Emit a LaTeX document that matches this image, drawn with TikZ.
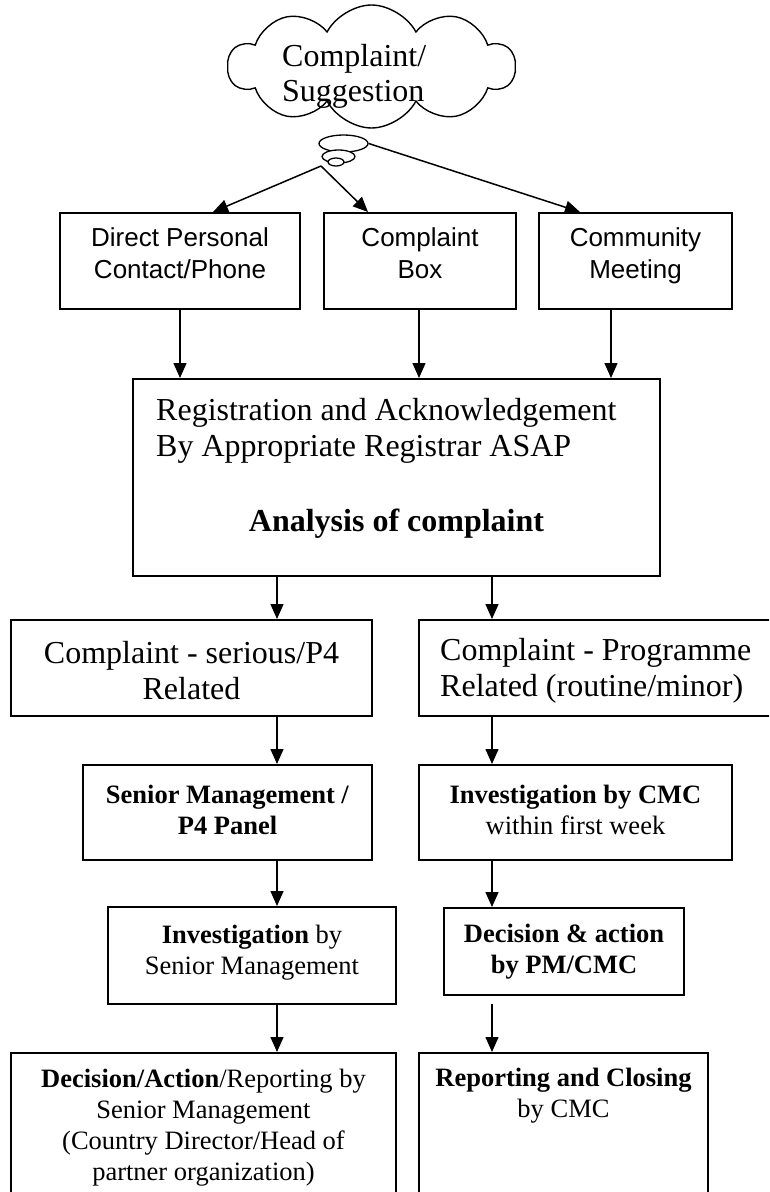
\documentclass[tikz,border=0pt]{standalone}
\usepackage{fontspec}
\setmainfont{Liberation Serif}
\newfontfamily\arialf{Liberation Sans}
\usetikzlibrary{shapes.symbols,shapes.geometric,arrows.meta,calc}
\begin{document}
\begin{tikzpicture}[x=1pt,y=-1pt,
  box/.style={draw, line width=2pt, inner sep=0pt, rectangle},
  arr/.style={line width=1.5pt, -{Triangle[length=15pt,width=13pt]}},
  big/.style={font=\fontsize{32}{36}\selectfont},
  sml/.style={font=\fontsize{26.5}{31}\selectfont},
  ari/.style={font=\arialf\fontsize{26}{32}\selectfont},
  txt/.style={inner sep=0pt, align=center},
  txl/.style={inner sep=0pt, align=left, anchor=west},
  bubble/.style={draw, ellipse, fill=white, line width=1.3pt, inner sep=0pt},
]
\useasboundingbox (0,0) rectangle (769,1192);
\clip (0,0) rectangle (769,1192);

% cloud
\node[cloud, draw, line width=1.4pt, cloud puffs=10, cloud puff arc=125,
      cloud ignores aspect, minimum width=287pt, minimum height=123pt,
      inner sep=0pt] (cl) at (371.5,66.5) {};
\node[txl, font=\fontsize{32}{35}\selectfont] (tcl) at (282,76) {Complaint/\\Suggestion};
\node[bubble, minimum width=49pt, minimum height=17pt] (b1) at (343.5,143.5) {};
\node[bubble, minimum width=33pt, minimum height=13pt] (b2) at (338.5,156.5) {};
\node[bubble, minimum width=16pt, minimum height=8pt] (b3) at (336,162) {};
\coordinate (s) at (321,166);

% boxes
\node[box, minimum width=240pt, minimum height=96pt] (A) at (180,261) {};
\node[box, minimum width=192pt, minimum height=96pt] (B) at (420,261) {};
\node[box, minimum width=193pt, minimum height=96pt] (C) at (635.5,261) {};
\node[box, minimum width=527pt, minimum height=197pt] (R) at (396.5,477.5) {};
\node[box, minimum width=361pt, minimum height=96pt] (S) at (191.5,668) {};
\node[box, minimum width=371pt, minimum height=96pt] (P) at (604.5,668) {};
\node[box, minimum width=289pt, minimum height=95pt] (SM) at (227.5,812.5) {};
\node[box, minimum width=313pt, minimum height=95pt] (CM) at (575.5,812.5) {};
\node[box, minimum width=288pt, minimum height=97pt] (I) at (252,955.5) {};
\node[box, minimum width=240pt, minimum height=87pt] (D) at (564,951.5) {};
\node[box, minimum width=385pt, minimum height=177pt] (L5) at (203.5,1141.5) {};
\node[box, minimum width=289pt, minimum height=177pt] (R5) at (563.5,1141.5) {};
\coordinate (gap) at (492,1004);

% texts
\node[txt, ari] (tA) at (180,253.5) {Direct Personal\\Contact/Phone};
\node[txt, ari] (tB) at (420,253.5) {Complaint\\Box};
\node[txt, ari] (tC) at (635.5,255.5) {Community\\Meeting};
\node[txl, big] (tR1) at (156,431) {Registration and Acknowledgement\\By Appropriate Registrar ASAP};
\node[txt, big] (tR2) at (396.5,524) {\textbf{Analysis of complaint}};
\node[txt, big] (tS) at (191.5,671) {Complaint - serious/P4\\Related};
\node[txl, big] (tP) at (440,671) {Complaint - Programme\\Related (routine/minor)};
\node[txt, sml] (tSM) at (227.5,810) {\textbf{Senior Management /}\\\textbf{P4 Panel}};
\node[txt, sml] (tCM) at (575.5,810) {\textbf{Investigation by CMC}\\within first week};
\node[txt, sml] (tI) at (252,953) {\textbf{Investigation} by\\Senior Management};
\node[txt, sml] (tD) at (564,952) {\textbf{Decision \& action}\\\textbf{by PM/CMC}};
\node[txt, sml] (tL5) at (203.5,1128) {\textbf{Decision/Action}/Reporting by\\Senior Management\\(Country Director/Head of\\partner organization)};
\node[txt, sml] (tR5) at (563.5,1096) {\textbf{Reporting and Closing}\\by CMC};

% connectors
\draw[arr] (s) -- ([xshift=33pt]A.north);
\draw[arr] (s) -- ([xshift=-52pt]B.north);
\draw[arr] (b1.east) -- ([xshift=-55.5pt]C.north);
\draw[arr] (A.south) -- (A.south |- R.north);
\draw[arr] ([xshift=-1pt]B.south) -- ([xshift=-1pt]B.south |- R.north);
\draw[arr] ([xshift=-24.5pt]C.south) -- ([xshift=-24.5pt]C.south |- R.north);
\draw[arr] (R.south -| 277,0) -- (S.north -| 277,0);
\draw[arr] (R.south -| 492,0) -- (P.north -| 492,0);
\draw[arr] (S.south -| 277,0) -- (SM.north -| 277,0);
\draw[arr] (P.south -| 492,0) -- (CM.north -| 492,0);
\draw[arr] (SM.south -| 277,0) -- (I.north -| 277,0);
\draw[arr] (CM.south -| 492,0) -- (D.north -| 492,0);
\draw[arr] (I.south -| 277,0) -- (L5.north -| 277,0);
\draw[arr] (gap) -- (R5.north -| 492,0);
\end{tikzpicture}
\end{document}
